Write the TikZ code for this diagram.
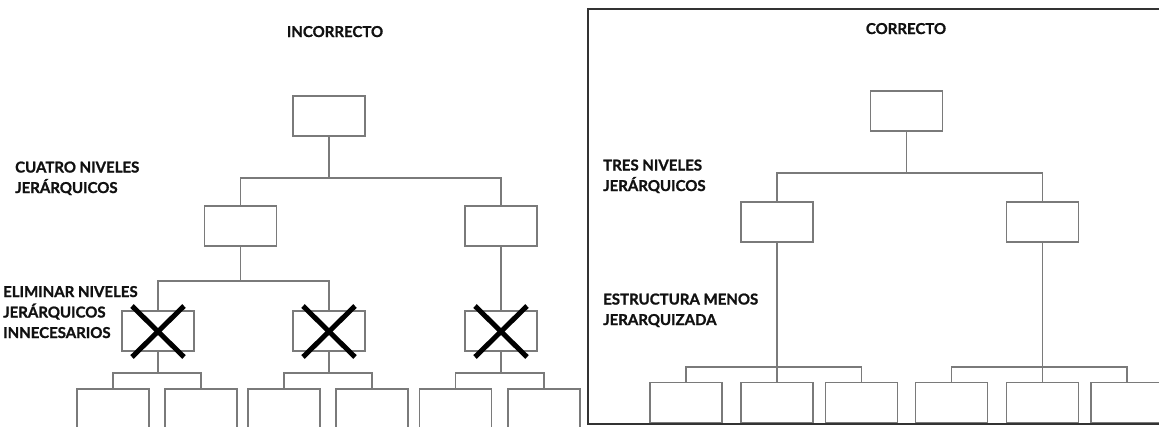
\documentclass[tikz,border=0pt]{standalone}
\usepackage{fontspec}
\setmainfont{Lato}[BoldFeatures={FakeBold=1.2}]
\usetikzlibrary{positioning}
\definecolor{boxgray}{HTML}{7A7A7A}
\definecolor{framegray}{HTML}{333333}
\definecolor{inkblack}{HTML}{111111}

\begin{document}
\begin{tikzpicture}[x=1pt, y=-1pt,
  orgbox/.style={draw=boxgray, line width=1.5pt, minimum width=72pt, minimum height=40pt, inner sep=0pt},
  link/.style={draw=boxgray, line width=1.5pt},
  cross/.style={draw=black, line width=5pt},
  lbl/.style={font=\bfseries\fontsize{15}{20.5}\selectfont, text=inkblack, align=left, anchor=base west, inner sep=0pt},
  heading/.style={font=\bfseries\fontsize{15}{18}\selectfont, text=inkblack, anchor=base, inner sep=0pt}]
  \clip (0,0) rectangle (1159,426);

  % ---- left panel: incorrecto ----
  \node[heading] (titleL) at (335,37) {INCORRECTO};
  \node[orgbox] (topL) at (329,116) {};
  \node[orgbox] (l2a) at (240.5,226) {};
  \node[orgbox] (l2b) at (501,226) {};
  \node[orgbox] (l3a) at (158,331) {};
  \node[orgbox] (l3b) at (329,331) {};
  \node[orgbox] (l3c) at (501,331) {};
  \foreach \i/\cx in {1/113,2/201,3/284,4/372,5/455.5,6/544}
    \node[orgbox] (l4-\i) at (\cx,409) {};

  \coordinate (busL1) at (0,178);
  \coordinate (busL2) at (0,281);
  \coordinate (busL3) at (0,373);
  \draw[link] (topL.south) -- (topL.south |- busL1);
  \draw[link] (l2a.north) |- (busL1 -| l2b.north) -- (l2b.north);
  \draw[link] (l2a.south) -- (l2a.south |- busL2);
  \draw[link] (l3a.north) |- (busL2 -| l3b.north) -- (l3b.north);
  \draw[link] (l2b.south) -- (l3c.north);
  \foreach \p/\a/\b in {l3a/1/2,l3b/3/4,l3c/5/6}{
    \draw[link] (\p.south) -- (\p.south |- busL3);
    \draw[link] (l4-\a.north) |- (busL3 -| l4-\b.north) -- (l4-\b.north);
  }

  % crosses over the removed level
  \foreach \p in {l3a,l3b,l3c}{
    \draw[cross] ([shift={(-26,-25)}]\p.center) -- ([shift={(26,26)}]\p.center);
    \draw[cross] ([shift={(26,-25)}]\p.center) -- ([shift={(-26,26)}]\p.center);
  }

  \node[lbl] (cuatro) at (15,193) {CUATRO NIVELES\\JERÁRQUICOS};
  \node[lbl] (eliminar) at (3,338) {ELIMINAR NIVELES\\JERÁRQUICOS\\INNECESARIOS};

  % ---- right panel: correcto ----
  \draw[framegray, line width=2pt] (588,9) rectangle (1175,424);
  \node[heading] (titleR) at (906,34) {CORRECTO};
  \node[orgbox] (topR) at (906.5,111) {};
  \node[orgbox] (r2a) at (777,222) {};
  \node[orgbox] (r2b) at (1042.5,222) {};
  \foreach \i/\cx in {1/686,2/777,3/861.5,4/951.5,5/1042.5,6/1127}
    \node[orgbox] (r3-\i) at (\cx,402.5) {};

  \coordinate (busR1) at (0,173);
  \coordinate (busR2) at (0,367);
  \draw[link] (topR.south) -- (topR.south |- busR1);
  \draw[link] (r2a.north) |- (busR1 -| r2b.north) -- (r2b.north);
  \draw[link] (r2a.south) -- (r3-2.north);
  \draw[link] (r3-1.north) |- (busR2 -| r3-3.north) -- (r3-3.north);
  \draw[link] (r2b.south) -- (r3-5.north);
  \draw[link] (r3-4.north) |- (busR2 -| r3-6.north) -- (r3-6.north);

  \node[lbl] (tres) at (603,191) {TRES NIVELES\\JERÁRQUICOS};
  \node[lbl] (menos) at (603,325) {ESTRUCTURA MENOS\\JERARQUIZADA};
\end{tikzpicture}
\end{document}
